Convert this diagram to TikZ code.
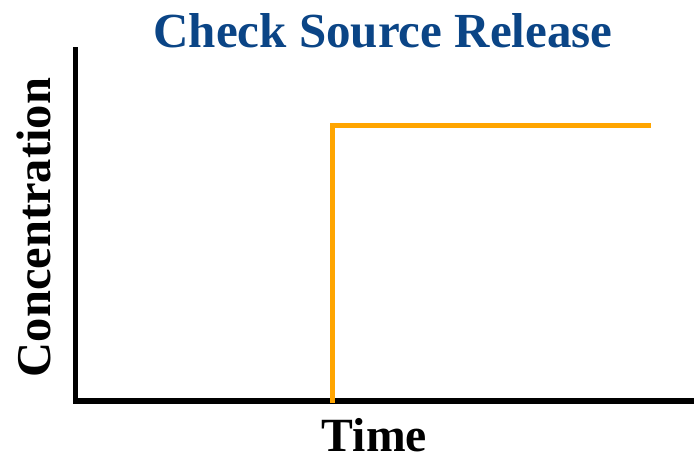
\documentclass[tikz,border=0pt]{standalone}
\usepackage{fontspec}
\setmainfont{Liberation Serif}
\definecolor{titleblue}{HTML}{0B4586}
\definecolor{curveorange}{HTML}{FFA500}
\tikzset{
  axis/.style={line width=5.5pt, line cap=rect},
  curve/.style={line width=5pt, curveorange, line join=miter},
  lbl/.style={inner sep=0pt, font=\bfseries}
}
\begin{document}
\begin{tikzpicture}[x=1pt,y=-1pt]
\useasboundingbox (0,0) rectangle (694,458);
\coordinate (ytop) at (75.5,50);
\coordinate (orig) at (75.5,401);
\coordinate (xend) at (694,401);
\draw[axis] (ytop) -- (orig) -- (xend);
\coordinate (c0) at (332,403);
\coordinate (c1) at (332,125);
\coordinate (c2) at (651,125);
\draw[curve] (c0) -- (c1) -- (c2);
\node[lbl, text=titleblue, anchor=base] (title) at (383,47) {\resizebox{459pt}{!}{Check Source Release}};
\node[lbl, anchor=base] (xl) at (374.5,451.5) {\resizebox{105pt}{!}{Time}};
\node[lbl, anchor=base, rotate=90] (yl) at (50,227.5) {\resizebox{299pt}{!}{Concentration}};
\end{tikzpicture}
\end{document}
